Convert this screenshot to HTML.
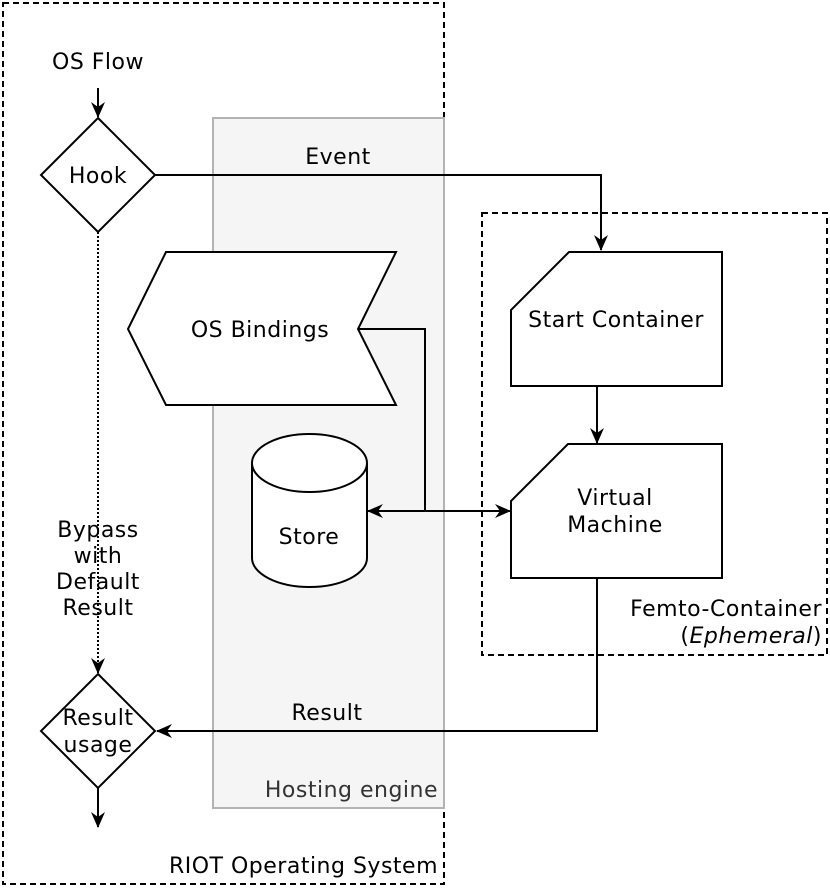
<!DOCTYPE html>
<html><head><meta charset="utf-8"><style>
html,body{margin:0;padding:0;background:#fff;}
svg{display:block;}
text{font-family:"DejaVu Sans","Liberation Sans",sans-serif;font-size:22px;letter-spacing:0.5px;fill:#000;}
</style></head><body>
<svg width="830" height="889" viewBox="0 0 830 889" xmlns="http://www.w3.org/2000/svg">
<defs>
<marker id="a" viewBox="0 0 16 14" refX="15" refY="7" markerWidth="16" markerHeight="14" orient="auto-start-reverse" markerUnits="userSpaceOnUse">
<path d="M0,0 L16,7 L0,14 L5,7 Z" fill="#000"/>
</marker>
</defs>
<g fill="none" stroke="#000" stroke-width="2">
<rect x="3" y="3" width="441" height="881" stroke-dasharray="6,4"/>
<rect x="213" y="118" width="231" height="690" fill="#f5f5f5" stroke="#b3b3b3"/>
<rect x="482" y="213" width="345" height="442" stroke-dasharray="6,4"/>
<polygon points="98,118 155,175 98,232 41,175" fill="#fff"/>
<polygon points="98,674 155,731 98,788 41,731" fill="#fff"/>
<polygon points="128,329 166,252 396,252 358,329 396,405 166,405" fill="#fff"/>
<path d="M252,463 L252,558 A57.5,29 0 0 0 367,558 L367,463 A57.5,29 0 0 0 252,463 Z" fill="#fff"/>
<path d="M252,463 A57.5,29 0 0 0 367,463"/>
<polygon points="569,252 722,252 722,386 511,386 511,310" fill="#fff"/>
<polygon points="568,444 722,444 722,578 511,578 511,501" fill="#fff"/>
<path d="M98,88 L98,117" marker-end="url(#a)"/>
<path d="M155,175 L601,175 L601,250" marker-end="url(#a)"/>
<path d="M597,386 L597,443" marker-end="url(#a)"/>
<path d="M358,329 L425,329 L425,511"/>
<path d="M368,511 L510,511" marker-start="url(#a)" marker-end="url(#a)"/>
<path d="M597,578 L597,731 L157,731" marker-end="url(#a)"/>
<path d="M98,232 L98,673" stroke-dasharray="2,2" marker-end="url(#a)"/>
<path d="M98,788 L98,827" marker-end="url(#a)"/>
</g>
<g text-anchor="middle">
<text x="98" y="69">OS Flow</text>
<text x="98" y="183">Hook</text>
<text x="338" y="164">Event</text>
<text x="260" y="337">OS Bindings</text>
<text x="616" y="327">Start Container</text>
<text x="615" y="505">Virtual</text>
<text x="615" y="532">Machine</text>
<text x="309" y="544">Store</text>
<text x="98" y="537">Bypass</text>
<text x="98" y="563">with</text>
<text x="98" y="589">Default</text>
<text x="98" y="615">Result</text>
<text x="327" y="720">Result</text>
<text x="98" y="725">Result</text>
<text x="98" y="752">usage</text>
</g>
<g text-anchor="end">
<text x="438" y="797" style="fill:#333">Hosting engine</text>
<text x="438" y="873">RIOT Operating System</text>
<text x="822" y="616">Femto-Container</text>
<text x="822" y="643">(<tspan font-style="italic">Ephemeral</tspan>)</text>
</g>
</svg>
</body></html>
